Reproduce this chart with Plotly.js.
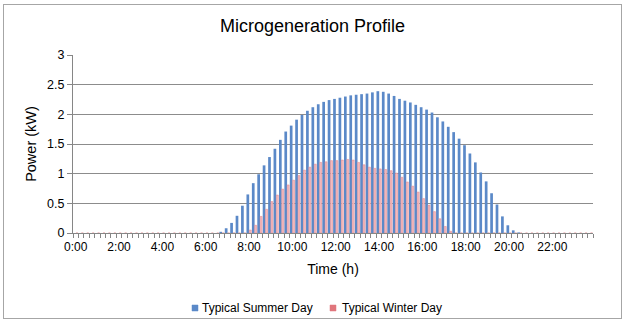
<!DOCTYPE html>
<html>
<head>
<meta charset="utf-8">
<script src="https://cdn.plot.ly/plotly-3.0.1.min.js"></script>
<style>
  html, body { margin: 0; padding: 0; background: #fff; }
  #wrap { position: relative; width: 625px; height: 321px; }
  #chart { position: absolute; left: 0; top: 0; width: 625px; height: 321px; }
  #frame { position: absolute; left: 3px; top: 4px; width: 617px; height: 313px;
           border: 1px solid #a6a6a6; pointer-events: none; }
</style>
</head>
<body>
<div id="wrap">
  <div id="chart"></div>
  <div id="frame"></div>
</div>
<script>
// Quarter-hour time slots across the day
const times = [];
for (let h = 0; h < 24; h++) {
  for (let m = 0; m < 60; m += 15) {
    times.push(h + ':' + (m === 0 ? '00' : String(m)));
  }
}

// Axis labels every two hours
const tickLabels = ['0:00', '2:00', '4:00', '6:00', '8:00', '10:00',
                    '12:00', '14:00', '16:00', '18:00', '20:00', '22:00'];

// Series names
const seriesNames = ['Typical Summer Day', 'Typical Winter Day'];

// Generated power (kW) per quarter hour
const summerDay = [
  0, 0, 0, 0, 0, 0, 0, 0, 0, 0, 0, 0, 0, 0, 0, 0,
  0, 0, 0, 0, 0, 0, 0, 0, 0, 0, 0, 0.02, 0.08, 0.17, 0.29, 0.46,
  0.65, 0.84, 0.99, 1.14, 1.28, 1.42, 1.57, 1.71, 1.81, 1.91, 1.99, 2.06, 2.12, 2.17, 2.21, 2.24,
  2.26, 2.28, 2.30, 2.32, 2.33, 2.34, 2.35, 2.37, 2.39, 2.38, 2.35, 2.31, 2.26, 2.23, 2.20, 2.16,
  2.12, 2.08, 2.03, 1.95, 1.88, 1.79, 1.70, 1.59, 1.48, 1.34, 1.19, 1.02, 0.87, 0.67, 0.48, 0.28,
  0.13, 0.045, 0.01, 0, 0, 0, 0, 0, 0, 0, 0, 0, 0, 0, 0, 0
];

const winterDay = [
  0, 0, 0, 0, 0, 0, 0, 0, 0, 0, 0, 0, 0, 0, 0, 0,
  0, 0, 0, 0, 0, 0, 0, 0, 0, 0, 0, 0, 0, 0, 0, 0,
  0.05, 0.13, 0.28, 0.40, 0.53, 0.64, 0.74, 0.81, 0.89, 0.97, 1.06, 1.11, 1.16, 1.19, 1.20, 1.22,
  1.22, 1.23, 1.24, 1.23, 1.19, 1.15, 1.11, 1.09, 1.08, 1.07, 1.05, 1.01, 0.94, 0.86, 0.79, 0.69,
  0.58, 0.47, 0.36, 0.24, 0.11, 0.03, 0, 0, 0, 0, 0, 0, 0, 0, 0, 0,
  0, 0, 0, 0, 0, 0, 0, 0, 0, 0, 0, 0, 0, 0, 0, 0
];

const slotIndex = times.map((t, i) => i);
const tickPositions = tickLabels.map(l => times.indexOf(l));

const FONT = 'Liberation Sans, Arial, sans-serif';
const SUMMER_COLOR = '#5b89c8';
const WINTER_FILL = '#f2bcc0';
const WINTER_EDGE = '#e08389';

const traces = [
  {
    type: 'bar',
    name: seriesNames[0],
    x: slotIndex,
    y: summerDay,
    text: times,
    textposition: 'none',
    width: 0.5,
    marker: { color: SUMMER_COLOR, line: { width: 0 } },
    hovertemplate: '%{text}: %{y} kW<extra></extra>'
  },
  {
    type: 'bar',
    name: seriesNames[1],
    x: slotIndex,
    y: winterDay,
    text: times,
    textposition: 'none',
    width: 0.36,
    marker: { color: WINTER_FILL, line: { color: WINTER_EDGE, width: 0.5 } },
    hovertemplate: '%{text}: %{y} kW<extra></extra>'
  }
];

// Plot area spans 73..593 px horizontally and 55..233 px vertically
const PL = 73, PR = 593, PT = 55, PB = 233;
const px = v => (v - PL) / (PR - PL);
const py = v => (PB - v) / (PB - PT);

// Legend drawn as small swatches with labels beneath the axis title
const legendY = 308;
const legendItems = [
  { name: seriesNames[0], color: SUMMER_COLOR, sw: 192, tx: 200 },
  { name: seriesNames[1], color: '#e0767c', sw: 330, tx: 340 }
];

const shapes = legendItems.map(it => ({
  type: 'rect', xref: 'paper', yref: 'paper',
  x0: px(it.sw), x1: px(it.sw + 6),
  y0: py(legendY + 3), y1: py(legendY - 3),
  fillcolor: it.color, line: { color: it.color, width: 0.5 }
}));

const annotations = legendItems.map(it => ({
  xref: 'paper', yref: 'paper',
  x: px(it.tx), y: py(legendY),
  xanchor: 'left', yanchor: 'middle',
  text: it.name, showarrow: false,
  font: { family: FONT, size: 12, color: '#000000' }
}));

const layout = {
  width: 625,
  height: 321,
  margin: { l: PL, r: 625 - PR, t: PT, b: 321 - PB, autoexpand: false },
  paper_bgcolor: '#ffffff',
  plot_bgcolor: '#ffffff',
  font: { family: FONT, size: 12, color: '#000000' },
  title: {
    text: 'Microgeneration Profile',
    font: { family: FONT, size: 18, color: '#000000' },
    x: 0.5, xanchor: 'center',
    y: 1 - 26 / 321, yanchor: 'middle', yref: 'container'
  },
  barmode: 'group',
  bargap: 0.1,
  bargroupgap: 0.08,
  showlegend: false,
  shapes: shapes,
  annotations: annotations,
  xaxis: {
    type: 'linear',
    range: [-0.5, 95.5],
    tickmode: 'array',
    tickvals: tickPositions,
    ticktext: tickLabels,
    ticks: '',
    ticklabelstandoff: 3,
    showgrid: false,
    zeroline: false,
    showline: true,
    linecolor: '#868686',
    linewidth: 1,
    tickfont: { family: FONT, size: 12, color: '#000000' },
    minor: {
      tickmode: 'linear',
      tick0: -0.5,
      dtick: 1,
      ticks: 'outside',
      ticklen: 4,
      tickcolor: '#868686',
      tickwidth: 1,
      showgrid: false
    },
    title: {
      text: 'Time (h)',
      font: { family: FONT, size: 14, color: '#000000' },
      standoff: 10
    }
  },
  yaxis: {
    range: [0, 3],
    dtick: 0.5,
    tick0: 0,
    showgrid: true,
    gridcolor: '#8c8c8c',
    gridwidth: 1,
    zeroline: false,
    showline: true,
    linecolor: '#868686',
    ticks: 'outside',
    ticklen: 5,
    tickcolor: '#868686',
    tickfont: { family: FONT, size: 12.5, color: '#000000' },
    title: {
      text: 'Power (kW)',
      font: { family: FONT, size: 14.5, color: '#000000' },
      standoff: 7
    }
  }
};

Plotly.newPlot('chart', traces, layout, { displayModeBar: false, staticPlot: true });
</script>
</body>
</html>
